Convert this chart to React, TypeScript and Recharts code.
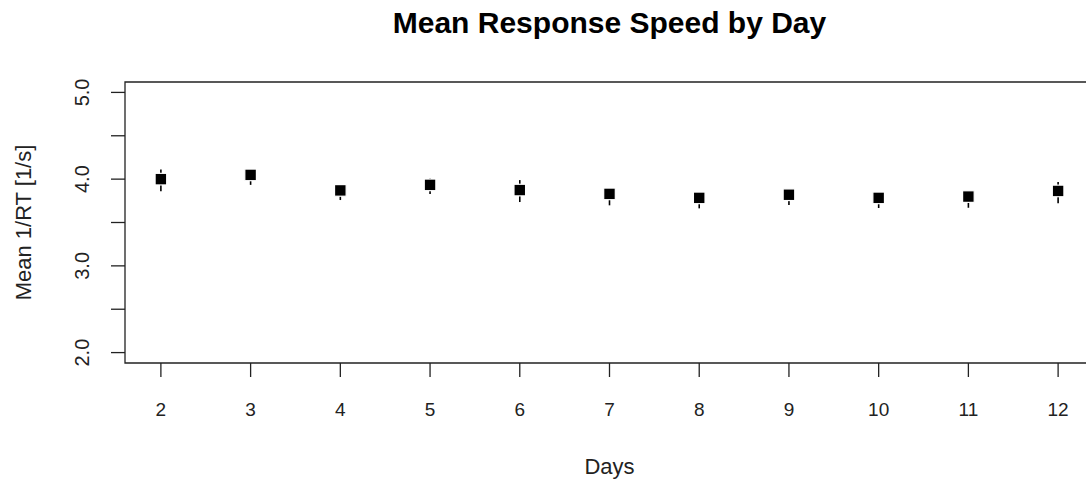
import React from 'react'
import {
  ScatterChart,
  Scatter,
  XAxis,
  YAxis,
  ErrorBar,
  ReferenceArea,
  Label,
} from 'recharts'

// values
const DAYS = [2, 3, 4, 5, 6, 7, 8, 9, 10, 11, 12]
const MEAN_SPEED = [4.0, 4.049, 3.87, 3.934, 3.874, 3.83, 3.784, 3.82, 3.784, 3.799, 3.864]
const LOWER = [3.859, 3.934, 3.759, 3.828, 3.736, 3.698, 3.663, 3.701, 3.667, 3.67, 3.721]
const UPPER = [4.111, 4.07, 3.89, 4.006, 3.989, 3.85, 3.8, 3.84, 3.8, 3.82, 3.966]

const X_TICKS = [2, 3, 4, 5, 6, 7, 8, 9, 10, 11, 12]
const Y_TICKS = [2, 2.5, 3, 3.5, 4, 4.5, 5]

const FONT = '"Liberation Sans", Arial, sans-serif'
const INK = '#222'

const data = DAYS.map((day, i) => ({
  day,
  mean: MEAN_SPEED[i],
  err: [MEAN_SPEED[i] - LOWER[i], UPPER[i] - MEAN_SPEED[i]],
}))

// little filled square, like pch = 15
const SquarePoint = (props: any) => {
  const { cx, cy } = props
  if (cx == null || cy == null) return null
  return (
    <rect
      x={cx - 5.8}
      y={cy - 5.8}
      width={11.6}
      height={11.6}
      fill='#000'
      stroke='#fff'
      strokeWidth={1.2}
    />
  )
}

const XTick = (props: any) => {
  const { x, y, payload } = props
  return (
    <text x={x} y={y + 37} textAnchor='middle' fill={INK} fontSize={19} fontFamily={FONT}>
      {payload.value}
    </text>
  )
}

const YTick = (props: any) => {
  const { x, y, payload } = props
  const v = payload.value
  // R drops the half-step labels, only whole numbers are printed
  if (v % 1 !== 0) return null
  const tx = x - 20
  return (
    <text
      x={tx}
      y={y}
      transform={`rotate(-90 ${tx} ${y})`}
      textAnchor='middle'
      fill={INK}
      fontSize={20}
      fontFamily={FONT}
    >
      {v.toFixed(1)}
    </text>
  )
}

export default function App() {
  return (
    <div
      style={{
        position: 'absolute',
        left: 0,
        top: 0,
        width: 1086,
        height: 482,
        overflow: 'hidden',
        background: '#fff',
      }}
    >
      <div
        style={{
          position: 'absolute',
          left: 0,
          width: 1219,
          top: 8,
          textAlign: 'center',
          fontFamily: FONT,
          fontWeight: 'bold',
          fontSize: 30,
          lineHeight: '30px',
          color: '#000',
          whiteSpace: 'nowrap',
        }}
      >
        Mean Response Speed by Day
      </div>
      <ScatterChart
        width={1110}
        height={482}
        margin={{ top: 82, right: 16, left: 0, bottom: 0 }}
      >
        <XAxis
          type='number'
          dataKey='day'
          domain={[1.6, 12.4]}
          ticks={X_TICKS}
          interval={0}
          allowDataOverflow
          axisLine={false}
          tickLine={{ stroke: INK, strokeWidth: 1.3 }}
          tickSize={14}
          tickMargin={2}
          tick={<XTick />}
          height={119}
        >
          <Label
            content={({ viewBox }: any) => (
              <text
                x={viewBox.x + viewBox.width / 2}
                y={474}
                textAnchor='middle'
                fill={INK}
                fontSize={22}
                fontFamily={FONT}
              >
                Days
              </text>
            )}
          />
        </XAxis>
        <YAxis
          type='number'
          dataKey='mean'
          domain={[1.88, 5.12]}
          ticks={Y_TICKS}
          interval={0}
          allowDataOverflow
          axisLine={false}
          tickLine={{ stroke: INK, strokeWidth: 1.3 }}
          tickSize={14}
          tickMargin={2}
          tick={<YTick />}
          width={125}
        >
          <Label
            content={({ viewBox }: any) => {
              const cy = viewBox.y + viewBox.height / 2
              return (
                <text
                  x={31}
                  y={cy}
                  transform={`rotate(-90 31 ${cy})`}
                  textAnchor='middle'
                  fill={INK}
                  fontSize={22}
                  fontFamily={FONT}
                >
                  Mean 1/RT [1/s]
                </text>
              )
            }}
          />
        </YAxis>
        <ReferenceArea
          x1={1.6}
          x2={12.4}
          y1={1.88}
          y2={5.12}
          fill='none'
          stroke={INK}
          strokeWidth={1.3}
          fillOpacity={0}
          ifOverflow='visible'
        />
        <Scatter data={data} shape={<SquarePoint />} isAnimationActive={false}>
          <ErrorBar
            dataKey='err'
            direction='y'
            width={0}
            stroke='#000'
            strokeWidth={1.6}
            isAnimationActive={false}
          />
        </Scatter>
      </ScatterChart>
    </div>
  )
}
